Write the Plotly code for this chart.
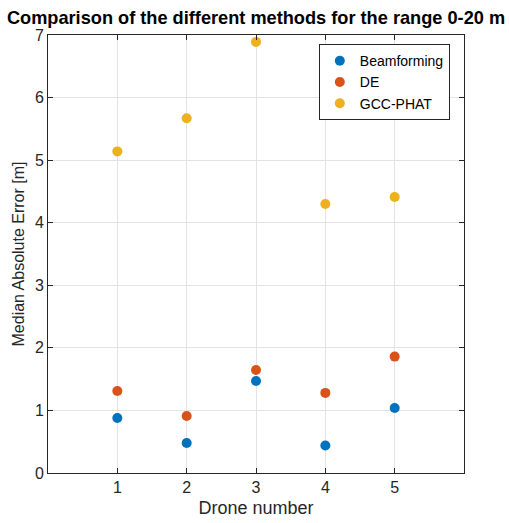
import plotly.graph_objects as go

drones = [1, 2, 3, 4, 5]
beamforming = [0.88, 0.48, 1.47, 0.44, 1.04]
de = [1.31, 0.91, 1.645, 1.28, 1.86]
gcc_phat = [5.14, 5.67, 6.89, 4.30, 4.41]

series = [
    ("Beamforming", beamforming, "#0072BD"),
    ("DE", de, "#D95319"),
    ("GCC-PHAT", gcc_phat, "#EDB120"),
]

fig = go.Figure()
for name, vals, col in series:
    fig.add_trace(go.Scatter(x=drones, y=vals, mode="markers", name=name,
                             marker=dict(color=col, size=10, line=dict(width=0))))

axis_common = dict(
    showline=True, linecolor="#262626", linewidth=1, mirror="ticks",
    ticks="inside", ticklen=5, tickcolor="#262626",
    showgrid=True, gridcolor="#e3e3e3", gridwidth=1, zeroline=False,
    automargin=False,
    tickfont=dict(family="Liberation Sans, Arial", size=16, color="#262626"),
)

fig.update_layout(
    width=509, height=523,
    margin=dict(l=48, r=45, t=35, b=50, autoexpand=False),
    paper_bgcolor="white", plot_bgcolor="white",
    title=dict(text="<b>Comparison of the different methods for the range 0-20 m</b>",
               font=dict(family="Liberation Sans, Arial", size=18.2, color="black"),
               x=0.5, xanchor="center", y=0.966, yanchor="middle", xref="paper"),
    xaxis=dict(range=[0, 6], tickvals=[1, 2, 3, 4, 5],
               title=dict(text="Drone number", standoff=6,
                          font=dict(family="Liberation Sans, Arial", size=18, color="#262626")),
               **axis_common),
    yaxis=dict(range=[0, 7], tickvals=[0, 1, 2, 3, 4, 5, 6, 7],
               title=dict(text="Median Absolute Error [m]", standoff=6,
                          font=dict(family="Liberation Sans, Arial", size=16, color="#262626")),
               **axis_common),
    legend=dict(x=0.651, y=0.979, xanchor="left", yanchor="top",
                bgcolor="white", bordercolor="#262626", borderwidth=1,
                font=dict(family="Liberation Sans, Arial", size=14, color="black"),
                itemwidth=30, tracegroupgap=0),
    showlegend=True,
)

fig.write_html("out.html", config={"displayModeBar": False},
               post_script="document.body.style.margin='0';")
